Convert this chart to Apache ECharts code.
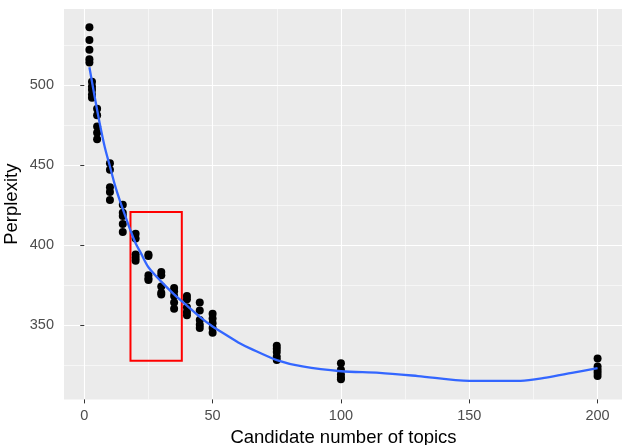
<!DOCTYPE html>
<html>
<head>
<meta charset="utf-8">
<script src="https://cdn.jsdelivr.net/npm/echarts@6/dist/echarts.min.js"></script>
<style>
  html, body { margin: 0; padding: 0; background: #fff; }
  #chart { width: 622px; height: 445px; }
</style>
</head>
<body>
<div id="chart"></div>
<script>
// candidate topic counts and the perplexity of each run
const topics = [2, 3, 5, 10, 15, 20, 25, 30, 35, 40, 45, 50, 75, 100, 200];
const perplexity = [
  [536, 528, 522, 516, 514],
  [502, 499, 497, 494, 492],
  [485, 481, 474, 470, 466],
  [451, 447, 436, 433, 428],
  [425, 420, 418, 413, 408],
  [407, 404, 394, 392, 390],
  [394, 393, 381, 379, 378],
  [383, 381, 374, 370, 369],
  [373, 371, 368, 364, 360],
  [368, 366, 361, 358, 356],
  [364, 359, 353, 350, 348],
  [357, 354, 351, 348, 345],
  [337, 335, 333, 330, 328],
  [326, 322, 319, 317, 316],
  [329, 324, 322, 320, 318]
];

// loess curve
const smoothTopics = [2, 4, 6, 8, 10, 12, 14, 16, 18, 20, 22, 25, 30, 35, 40, 45, 50, 55, 60, 65, 75, 85, 100, 115, 130, 150, 170, 180, 190, 200];
const smoothPerplexity = [511, 493, 476, 461, 449, 437, 427, 418, 409, 401, 395, 386, 377, 369, 362, 355, 349, 344, 339, 335, 328, 324, 321, 320, 318, 315, 315, 317, 320, 323];

// highlighted range (topics, perplexity)
const boxTopics = [18, 38];
const boxPerplexity = [327.5, 420.6];

const xTicks = [0, 50, 100, 150, 200];
const yTicks = [350, 400, 450, 500];

const points = [];
topics.forEach((t, i) => {
  perplexity[i].forEach(v => points.push([t, v]));
});
const curve = smoothTopics.map((t, i) => [t, smoothPerplexity[i]]);

const chart = echarts.init(document.getElementById('chart'));

const option = {
  animation: false,
  backgroundColor: '#ffffff',
  grid: {
    left: 64,
    right: -1,
    top: 9,
    bottom: 45.6,
    containLabel: false,
    outerBoundsMode: 'none',
    show: true,
    backgroundColor: '#EBEBEB',
    borderWidth: 0
  },
  xAxis: {
    type: 'value',
    min: -7.9,
    max: 209.9,
    name: 'Candidate number of topics',
    nameLocation: 'middle',
    nameGap: 29,
    nameMoveOverlap: false,
    nameTextStyle: { color: '#000', fontSize: 18.5, fontFamily: 'Liberation Sans' },
    axisLine: { show: false },
    axisTick: {
      show: true, length: 4, customValues: xTicks,
      lineStyle: { color: '#333', width: 1 }
    },
    axisLabel: {
      customValues: xTicks,
      color: '#4D4D4D', fontSize: 14.5, fontFamily: 'Liberation Sans', margin: 9
    },
    splitLine: { show: true, lineStyle: { color: '#fff', width: 1.1 } },
    minorTick: { show: false, splitNumber: 2 },
    minorSplitLine: { show: true, lineStyle: { color: '#fff', width: 0.55 } }
  },
  yAxis: {
    type: 'value',
    min: 303.4,
    max: 547.4,
    name: 'Perplexity',
    nameLocation: 'middle',
    nameGap: 43,
    nameRotate: 90,
    nameMoveOverlap: false,
    nameTextStyle: { color: '#000', fontSize: 18.5, fontFamily: 'Liberation Sans' },
    axisLine: { show: false },
    axisTick: {
      show: true, length: 4, customValues: yTicks,
      lineStyle: { color: '#333', width: 1 }
    },
    axisLabel: {
      customValues: yTicks,
      color: '#4D4D4D', fontSize: 14.5, fontFamily: 'Liberation Sans', margin: 10
    },
    splitLine: { show: true, lineStyle: { color: '#fff', width: 1.1 } },
    minorTick: { show: false, splitNumber: 2 },
    minorSplitLine: { show: true, lineStyle: { color: '#fff', width: 0.55 } }
  },
  series: [
    {
      type: 'scatter',
      data: points,
      symbol: 'circle',
      symbolSize: 8,
      itemStyle: { color: '#000', opacity: 1 },
      silent: true,
      z: 2
    },
    {
      type: 'line',
      data: curve,
      showSymbol: false,
      smooth: 0.3,
      lineStyle: { color: '#3366FF', width: 2.3 },
      silent: true,
      z: 3,
      markArea: {
        silent: true,
        itemStyle: { color: 'rgba(0,0,0,0)', borderColor: '#FF0000', borderWidth: 2 },
        data: [[
          { coord: [boxTopics[0], boxPerplexity[1]] },
          { coord: [boxTopics[1], boxPerplexity[0]] }
        ]]
      }
    }
  ]
};

chart.setOption(option);
</script>
</body>
</html>
